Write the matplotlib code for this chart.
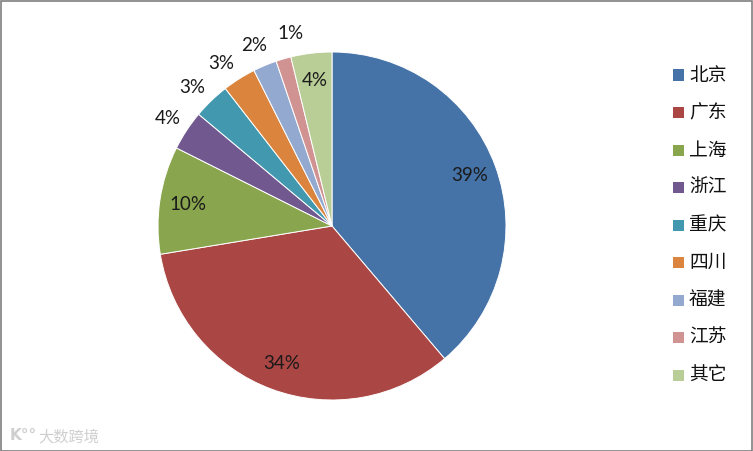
import numpy as np
import matplotlib
matplotlib.use("Agg")
import matplotlib.pyplot as plt
from matplotlib.patches import Rectangle

plt.rcParams['font.family'] = ['Noto Sans CJK SC', 'DejaVu Sans']

categories = ['北京', '广东', '上海', '浙江', '重庆', '四川', '福建', '江苏', '其它']
values = [38.8, 33.6, 10.0, 3.7, 3.4, 3.1, 2.2, 1.4, 3.8]
colors = ['#4572A7', '#AA4643', '#89A54E', '#71588F', '#4198AF',
          '#DB843D', '#93A9CF', '#D19392', '#B9CD96']
inside = [True, True, True, False, False, False, False, False, True]

W, H = 753, 451
fig = plt.figure(figsize=(W / 100, H / 100), dpi=100)
fig.patch.set_facecolor('white')

cx, cy, r = 332, 226, 174
ax = fig.add_axes([(cx - r) / W, (H - cy - r) / H, 2 * r / W, 2 * r / H])
wedges, _ = ax.pie(values, colors=colors, startangle=90, counterclock=False,
                   radius=1.0, wedgeprops=dict(edgecolor='white', linewidth=0.7))
ax.set_xlim(-1, 1)
ax.set_ylim(-1, 1)
ax.set_aspect('equal')
ax.axis('off')

total = sum(values)
cum = 0
mids = []
for v in values:
    mids.append(360 * (cum + v / 2) / total)
    cum += v
mids = np.array(mids)

# spread outside labels so they keep a minimum angular gap
out_idx = [i for i, ins in enumerate(inside) if not ins]
ang = {i: mids[i] for i in out_idx}
gap = 11.0
for _ in range(200):
    for a, b in zip(out_idx[:-1], out_idx[1:]):
        g = ang[b] - ang[a]
        if g < gap:
            ang[a] -= (gap - g) / 2
            ang[b] += (gap - g) / 2

for i, (v, ins) in enumerate(zip(values, inside)):
    a = mids[i] if ins else ang[i]
    theta = np.deg2rad(90 - a)
    d = 0.84 if ins else 1.13
    ax.text(d * np.cos(theta), d * np.sin(theta), f'{round(v)}%',
            ha='center', va='center', fontsize=13.5, family='Lato',
            color='#1a1a1a', clip_on=False)

# Legend
y0, dy = 75, 37.5
for i, (cat, col) in enumerate(zip(categories, colors)):
    y = y0 + i * dy
    fig.patches.append(Rectangle((673 / W, 1 - (y + 5.5) / H), 11 / W, 11 / H,
                                 transform=fig.transFigure, facecolor=col,
                                 edgecolor='none'))
    fig.text(689 / W, 1 - y / H, cat, ha='left', va='center', fontsize=13.5,
             color='#111111')

# Watermark
fig.text(10 / W, 1 - 436 / H, 'K°°', ha='left', va='center', fontsize=11,
         color='#cfcfcf', family='DejaVu Sans', fontweight='bold')
fig.text(38 / W, 1 - 437 / H, '大数跨境', ha='left', va='center', fontsize=11,
         color='#cfcfcf')

# Border
fig.patches.append(Rectangle((0.5 / W, 0.5 / H), (W - 1.5) / W, (H - 1.5) / H,
                             transform=fig.transFigure, facecolor='none',
                             edgecolor='#7f7f7f', linewidth=1.2))

fig.savefig('out.png', dpi=100)
